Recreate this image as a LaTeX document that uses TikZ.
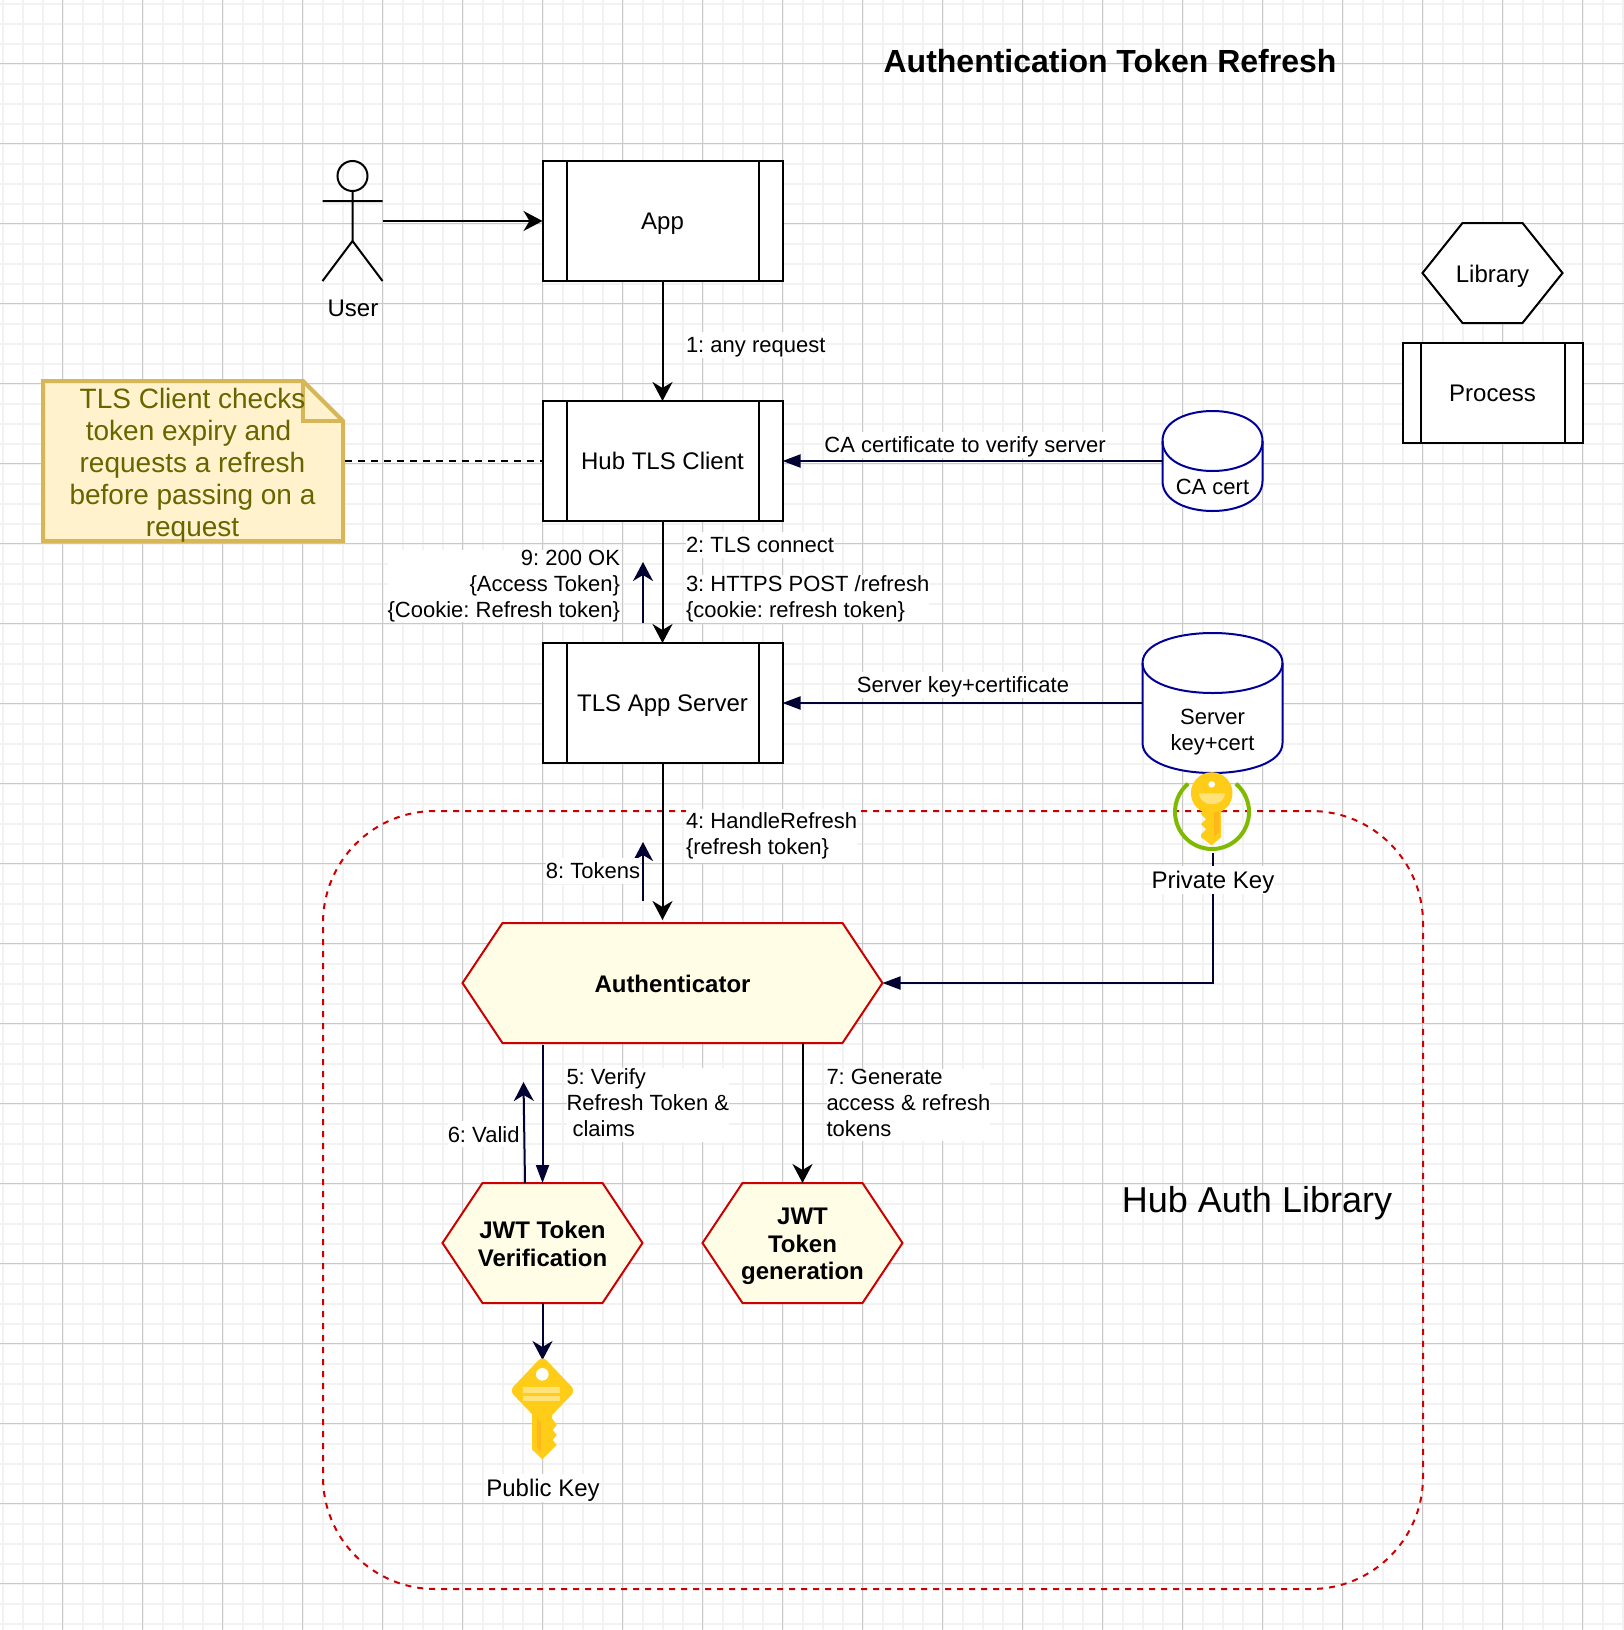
\documentclass[tikz,border=0pt]{standalone}
\usepackage{fontspec}
\setmainfont{Liberation Sans}
\usetikzlibrary{arrows.meta}

\definecolor{navyline}{HTML}{000033}
\definecolor{cylblue}{HTML}{000099}
\definecolor{hexred}{HTML}{CC0000}
\definecolor{hexfill}{HTML}{FFFDE6}
\definecolor{notefill}{HTML}{FFF2CC}
\definecolor{noteline}{HTML}{D6B656}
\definecolor{notetext}{HTML}{666600}
\definecolor{keygold}{HTML}{FFCD17}
\definecolor{keylight}{HTML}{FFE27A}
\definecolor{keyorange}{HTML}{FFB81C}
\definecolor{ringgreen}{HTML}{7FBA00}

\AtBeginDocument{\frenchspacing}
\newcommand{\vstrut}{\rule[-.2\baselineskip]{0pt}{\baselineskip}}

\newcommand{\cylnode}[4]{
  \node[minimum width=#3,minimum height=#4,inner sep=0pt,outer sep=0pt] (#1) at (#2) {};
  \path (#1.north west) ++(0,30) coordinate (#1a);
  \path (#1.north east) ++(0,30) coordinate (#1b);
  \path (#1.south east) ++(0,-30) coordinate (#1c);
  \path (#1.south west) ++(0,-30) coordinate (#1d);
  \draw[cylline,fill=white] (#1a) .. controls +(0,-40) and +(0,-40) .. (#1b) -- (#1c)
        .. controls +(0,40) and +(0,40) .. (#1d) -- cycle;
  \draw[cylline] (#1a) .. controls +(0,40) and +(0,40) .. (#1b);
}

% line style, text style, name, centre, width, height, text (40 wide chamfer on each end)
\newcommand{\hexnode}[7]{
  \draw[#1] (#4) ++({-#5/2},0) -- ++(40,{-#6/2}) -- ++({#5-80},0) -- ++(40,{#6/2})
        -- ++(-40,{#6/2}) -- ++({80-#5},0) -- cycle;
  \node[minimum width=#5pt,minimum height=#6pt,inner sep=0pt,outer sep=0pt] (#3) at (#4) {};
  \node[txt,align=center,#2] (#3text) at (#3.center) {#7};
}

\tikzset{
  gridminor/.style={draw=black!5,line width=2pt},
  gridmajor/.style={draw=black!21,line width=1pt},
  txt/.style={inner sep=0pt,outer sep=0pt,execute at begin node=\vstrut,execute at end node=\vstrut},
  lbl/.style={txt,fill=white,font=\fontsize{22}{26}\selectfont},
  nobg/.style={txt,font=\fontsize{22}{26}\selectfont},
  bigtxt/.style={txt,font=\fontsize{24}{27.6}\selectfont},
  boldtxt/.style={font=\fontsize{24}{27.6}\selectfont\bfseries},
  procbox/.style={draw,fill=white,line width=2pt,rectangle,inner sep=0pt,outer sep=0pt,
    font=\fontsize{24}{27.6}\selectfont,execute at begin node=\vstrut,
    path picture={
      \draw[line width=2pt] ([xshift=#1]path picture bounding box.north west) -- ([xshift=#1]path picture bounding box.south west);
      \draw[line width=2pt] ([xshift=-#1]path picture bounding box.north east) -- ([xshift=-#1]path picture bounding box.south east);
    }},
  hexline/.style={draw=hexred,fill=hexfill,line width=2pt},
  cylline/.style={draw=cylblue,line width=2pt},
  blackarrow/.style={draw=black,line width=2pt,-{Stealth[length=19pt,width=20pt,inset=6pt]}},
  navyarrow/.style={draw=navyline,line width=2pt,-{Stealth[length=19pt,width=20pt,inset=6pt,fill=navyline]}},
  navythin/.style={draw=navyline,line width=2pt,-{Stealth[length=18pt,width=13pt,inset=0pt,fill=navyline]}},
}

\begin{document}
\begin{tikzpicture}[x=1pt,y=-1pt]
\useasboundingbox (0,0) rectangle (1624,1630);
\fill[white] (0,0) rectangle (1624,1630);

% grid
\foreach \i in {0,...,81} \draw[gridminor] ({2.5+20*\i},0) -- ({2.5+20*\i},1630);
\foreach \i in {0,...,81} \draw[gridminor] (0,{3.5+20*\i}) -- (1624,{3.5+20*\i});
\foreach \i in {0,...,19} \draw[gridmajor] ({62.5+80*\i},0) -- ({62.5+80*\i},1630);
\foreach \i in {0,...,19} \draw[gridmajor] (0,{63.5+80*\i}) -- (1624,{63.5+80*\i});

\node[txt,font=\fontsize{32}{36.8}\selectfont\bfseries] (title) at (1110,61) {Authentication Token Refresh};

% library boundary
\node[draw=hexred,line width=2pt,dash pattern=on 6pt off 6pt,rounded corners=112pt,
      minimum width=1100pt,minimum height=778pt,inner sep=0pt] (authlib) at (873,1200) {};
\node[txt,font=\fontsize{36}{41.4}\selectfont] (authliblabel) at (1257,1200) {Hub Auth Library};

% user
\node[minimum width=60pt,minimum height=120pt,inner sep=0pt,outer sep=0pt] (user) at (352.5,221) {};
\draw[line width=2pt] (352.5,176) circle (15);
\draw[line width=2pt] (352.5,191) -- (352.5,241) (322.5,201) -- (382.5,201) (322.5,281) -- (352.5,241) -- (382.5,281);
\node[bigtxt] (userlabel) at (353,308) {User};

% processes
\node[procbox=24pt,minimum width=240pt,minimum height=120pt] (app) at (662.5,221) {App};
\node[procbox=24pt,minimum width=240pt,minimum height=120pt] (hubclient) at (662.5,461) {Hub TLS Client};
\node[procbox=24pt,minimum width=240pt,minimum height=120pt] (tlsserver) at (662.5,703) {TLS App Server};
\node[procbox=18pt,minimum width=180pt,minimum height=100pt] (process) at (1492.5,393) {Process};
\hexnode{draw=black,fill=white,line width=2pt}{bigtxt,yshift=-1pt}{library}{1492.5,273}{140}{100}{Library}

% libraries
\hexnode{hexline}{boldtxt,yshift=-1pt}{auth}{672.5,983}{420}{120}{Authenticator}
\hexnode{hexline}{boldtxt,yshift=-3.5pt}{jwtver}{542.5,1243}{200}{120}{JWT Token\\Verification}
\hexnode{hexline}{boldtxt,yshift=-3.5pt}{jwtgen}{802.5,1243}{200}{120}{JWT\\Token\\generation}

% stores
\cylnode{cacert}{1212.5,461}{100pt}{100pt}
\cylnode{servercert}{1212.5,703}{140pt}{140pt}
\node[nobg] (cacertlabel) at (1212.5,487) {CA cert};
\node[nobg,align=center] (servercertlabel) at (1212.5,732) {Server\\key+cert};

% note
\draw[draw=noteline,fill=notefill,line width=4pt] (43,381) -- (303,381) -- (343,421) -- (343,541) -- (43,541) -- cycle;
\draw[draw=noteline,line width=4pt] (303,381) -- (303,421) -- (343,421);
\node[txt,align=center,text=notetext,font=\fontsize{28}{32.2}\selectfont] (note) at (192.5,465.5)
  {TLS Client checks\\token expiry and\hspace*{7.8pt}\mbox{}\\requests a refresh\\before passing on a\\request};
\coordinate (noteedge) at (345,461);

% free ends
\coordinate (authin) at (662.5,920);
\coordinate (okstart) at (643,623);
\coordinate (okend) at (643,562);
\coordinate (tokstart) at (643,901);
\coordinate (tokend) at (643,842);
\coordinate (validstart) at (525,1183);
\coordinate (validend) at (523.5,1082);
\coordinate (pubkey) at (542.5,1360);
\coordinate (privkey) at (1212.5,853);

% connectors
\draw[blackarrow] (user.east) -- (app.west);
\draw[blackarrow] (app.south) -- (hubclient.north);
\draw[blackarrow] (hubclient.south) -- (tlsserver.north);
\draw[blackarrow] (tlsserver.south) -- (authin);
\draw[line width=2pt,dash pattern=on 7pt off 6pt] (noteedge) -- (hubclient.west);
\draw[navythin] (cacert.west) -- (hubclient.east);
\draw[navythin] (servercert.west) -- (tlsserver.east);
\draw[navyarrow] (okstart) -- (okend);
\draw[navyarrow] (tokstart) -- (tokend);
\draw[navyarrow] (validstart) -- (validend);
\draw[navythin] ([yshift=-2pt]jwtver.north |- auth.south) -- (jwtver.north);
\draw[blackarrow] (jwtgen.north |- auth.south) -- (jwtgen.north);
\draw[navyarrow] (jwtver.south) -- (pubkey);
\draw[navythin] (privkey) |- (auth.east);

% private key
\draw[ringgreen,line width=4pt] (1212,812) ++(-50:37) arc[start angle=-50,end angle=230,radius=37];
\fill[keygold] (1211.7,793) circle (20.8);
\fill[keygold] (1205,806) -- (1201,814) -- (1206,819.3) -- (1201,824) -- (1206,829.3) -- (1201,834.3) -- (1201,837.3)
   -- (1211.7,845.3) -- (1221,837.3) -- (1221,806) -- cycle;
\fill[keyorange] (1214,811.7) -- (1219.3,811.7) -- (1219.3,831.7) -- (1214,836.7) -- cycle;
\fill[white] (1211.7,784.3) circle (3.3);
\fill[keylight] (1199,793.3) -- (1225,793.3) arc[start angle=0,end angle=180,x radius=13,y radius=11] -- cycle;
\node[bigtxt,fill=white] (privlabel) at (1213,880) {Private Key};

% public key
\fill[keygold,rounded corners=6pt] (542.5,1356) -- (575.5,1390.7) -- (542.5,1425) -- (509.5,1390.7) -- cycle;
\fill[keygold] (532,1411.7) -- (552,1411.7) -- (552,1418.3) -- (556.7,1425) -- (552.7,1430) -- (556.7,1435) -- (552.7,1440)
   -- (556.7,1445) -- (542.3,1459.3) -- (532,1449.3) -- cycle;
\fill[keyorange] (537,1418.3) -- (541,1422.3) -- (541,1451.7) -- (537,1447.3) -- cycle;
\fill[white] (542.3,1374.3) circle (6.3);
\fill[keylight] (523,1387.3) rectangle (560.3,1392.7);
\fill[keylight] (523,1396) rectangle (560.3,1401.3);
\node[bigtxt,fill=white] (publabel) at (543,1488) {Public Key};

% edge labels
\node[lbl,anchor=west] (anyreq) at (686,345) {1: any request};
\node[lbl] (caverify) at (965,445) {CA certificate to verify server};
\node[lbl,anchor=west] (tlsconn) at (686,545) {2: TLS connect};
\node[lbl,anchor=west,align=left] (httpspost) at (686,599) {3: HTTPS POST /refresh\\\{cookie: refresh token\}};
\node[lbl,anchor=east,align=right] (okresp) at (620,586) {9: 200 OK\\\{Access Token\}\\\{Cookie: Refresh token\}};
\node[lbl] (serverkey) at (963,685) {Server key+certificate};
\node[lbl,anchor=west,align=left,inner ysep=3pt] (handle) at (686,836) {4: HandleRefresh\\\{refresh token\}};
\node[lbl,anchor=east] (tokens) at (640,870.7) {8: Tokens};
\node[lbl,anchor=west,align=left] (verify) at (566.5,1105) {5: Verify\\Refresh Token \&\\\hspace*{6pt}claims};
\node[lbl,anchor=east] (valid) at (519.5,1134.3) {6: Valid};
\node[lbl,anchor=west,align=left] (generate) at (826.5,1105) {7: Generate\\access \& refresh\\tokens};

\end{tikzpicture}
\end{document}
